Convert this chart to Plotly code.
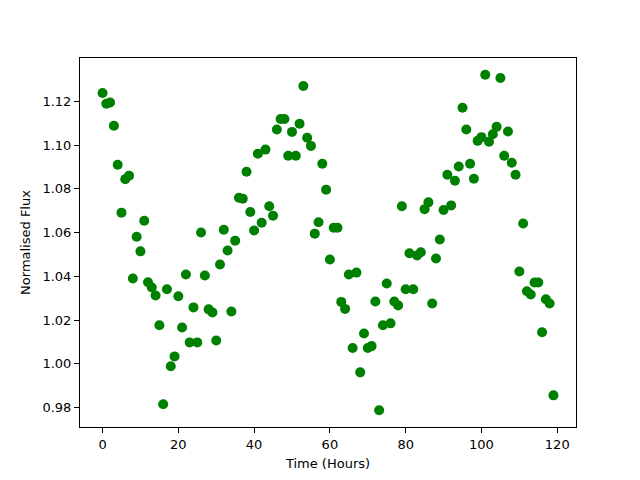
import plotly.graph_objects as go

time_hours = list(range(120))
flux = [
    1.1238, 1.1189, 1.1194, 1.1088, 1.0910, 1.0691, 1.0844, 1.0860, 1.0390, 1.0581,
    1.0514, 1.0654, 1.0373, 1.0349, 1.0312, 1.0176, 0.9815, 1.0341, 0.9989, 1.0034,
    1.0309, 1.0166, 1.0408, 1.0098, 1.0258, 1.0098, 1.0600, 1.0404, 1.0249, 1.0235,
    1.0107, 1.0454, 1.0613, 1.0518, 1.0239, 1.0563, 1.0759, 1.0755, 1.0878, 1.0694,
    1.0609, 1.0960, 1.0645, 1.0979, 1.0720, 1.0677, 1.1071, 1.1119, 1.1119, 1.0951,
    1.1060, 1.0951, 1.1097, 1.1270, 1.1033, 1.0996, 1.0595, 1.0647, 1.0914, 1.0796,
    1.0477, 1.0622, 1.0622, 1.0283, 1.0251, 1.0408, 1.0072, 1.0417, 0.9961, 1.0139,
    1.0072, 1.0081, 1.0285, 0.9788, 1.0176, 1.0367, 1.0185, 1.0285, 1.0267, 1.0720,
    1.0341, 1.0505, 1.0341, 1.0495, 1.0510, 1.0707, 1.0738, 1.0276, 1.0481, 1.0568,
    1.0703, 1.0864, 1.0724, 1.0837, 1.0902, 1.1170, 1.1071, 1.0914, 1.0846, 1.1019,
    1.1036, 1.1321, 1.1015, 1.1049, 1.1083, 1.1306, 1.0951, 1.1062, 1.0919, 1.0864,
    1.0422, 1.0641, 1.0332, 1.0317, 1.0372, 1.0372, 1.0144, 1.0295, 1.0276, 0.9856,
]

xmin, xmax = min(time_hours), max(time_hours)
ymin, ymax = min(flux), max(flux)
xpad = 0.05 * (xmax - xmin)
ypad = 0.05 * (ymax - ymin)

fig = go.Figure(go.Scatter(
    x=time_hours, y=flux, mode="markers",
    marker=dict(color="#008000", size=10, line=dict(width=0)),
))

axis_common = dict(
    showline=True, linecolor="black", linewidth=1, mirror=True,
    ticks="outside", ticklen=5, tickcolor="black", tickwidth=1,
    showgrid=False, zeroline=False, automargin=False,
    tickfont=dict(family="DejaVu Sans", size=13, color="black"),
)

fig.update_layout(
    width=640, height=480,
    margin=dict(l=80, r=64, t=58, b=53),
    paper_bgcolor="white", plot_bgcolor="white",
    showlegend=False,
    font=dict(family="DejaVu Sans", size=13, color="black"),
    xaxis=dict(
        range=[xmin - xpad, xmax + xpad], dtick=20, tick0=0,
        title=dict(text="Time (Hours)", font=dict(size=13), standoff=8),
        **axis_common,
    ),
    yaxis=dict(
        range=[ymin - ypad, ymax + ypad], dtick=0.02, tick0=0, tickformat=".2f",
        title=dict(text="Normalised Flux", font=dict(size=13), standoff=8),
        **axis_common,
    ),
)

fig.write_html("out.html", config={"displayModeBar": False},
               post_script="document.body.style.margin='0';")
